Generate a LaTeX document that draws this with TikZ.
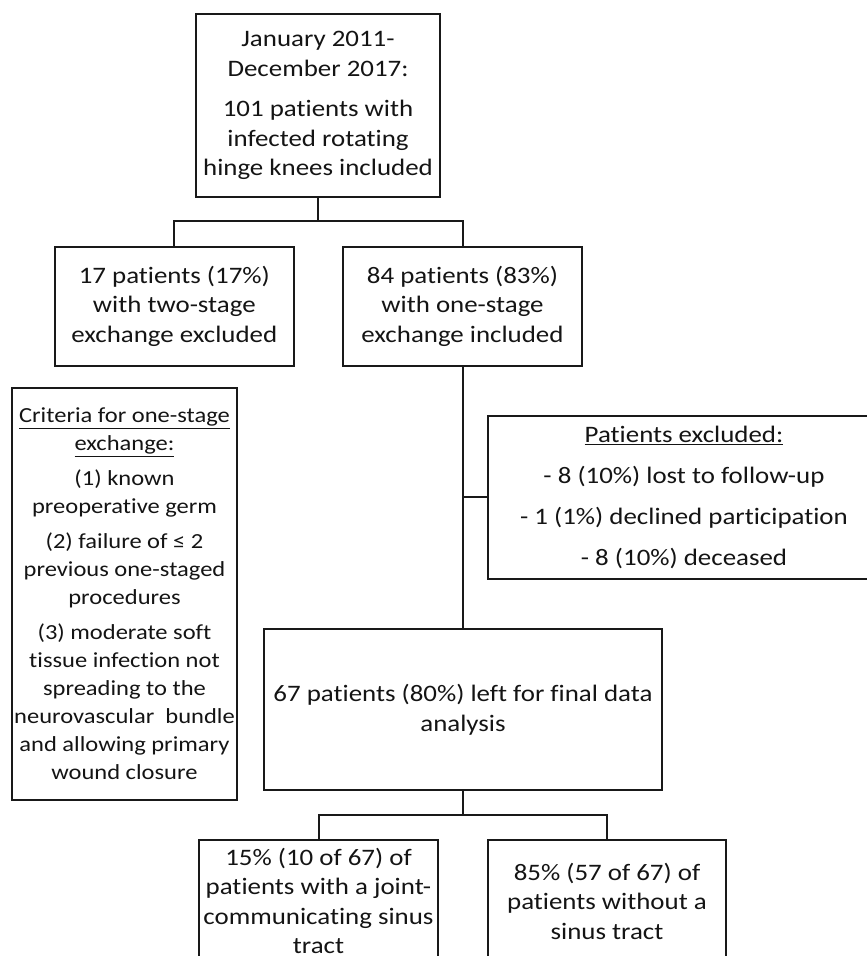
\documentclass[tikz,border=0pt]{standalone}
\usepackage{fontspec}
\setmainfont{Carlito}[FakeStretch=1.14, Ligatures={NoCommon}]
\begin{document}
\begin{tikzpicture}[x=1pt,y=-1pt,
  box/.style={draw=black!90, line width=2pt, inner sep=0pt, align=center, text=black!92,
    font=\fontsize{23.6}{29.5}\selectfont},
  smallbox/.style={box, font=\fontsize{21.5}{28}\selectfont},
  link/.style={draw=black!90, line width=2pt}]
\useasboundingbox (0,0) rectangle (867,956);
\clip (0,0) rectangle (867,956);
\node[box, minimum width=244pt, minimum height=183pt] (top) at (318,105.5)
  {January 2011-\\December 2017:\\[11pt]101 patients with\\infected rotating\\hinge knees included};
\node[box, minimum width=238.6pt, minimum height=119pt] (left) at (174.3,306.2)
  {17 patients (17\%)\\with two-stage\\exchange excluded};
\node[box, minimum width=238.4pt, minimum height=119pt] (right) at (462.5,306.2)
  {84 patients (83\%)\\with one-stage\\exchange included};
\node[smallbox, minimum width=225pt, minimum height=412pt] (crit) at (124.5,594)
  {\underline{Criteria for one-stage}\\\underline{exchange:}\\[7pt]
   (1) known\\preoperative germ\\[7pt]
   (2) failure of ≤ 2\\previous one-staged\\procedures\\[7pt]
   (3) moderate soft\\tissue infection not\\spreading to the\\neurovascular\ \ bundle\\and allowing primary\\wound closure};
\node[box, minimum width=392pt, minimum height=163.3pt] (excl) at (684,497.4)
  {\underline{Patients excluded:}\\[11.5pt]- 8 (10\%) lost to follow-up\\[11.5pt]- 1 (1\%) declined participation\\[11.5pt]- 8 (10\%) deceased};
\node[box, minimum width=398pt, minimum height=160.7pt] (final) at (463,709.7)
  {67 patients (80\%) left for final data\\analysis};
\node[box, minimum width=239pt, minimum height=122pt] (bl) at (318.5,901)
  {15\% (10 of 67) of\\patients with a joint-\\communicating sinus\\tract};
\node[box, minimum width=238pt, minimum height=122pt] (br) at (607,901)
  {85\% (57 of 67) of\\patients without a\\sinus tract};
\coordinate (j1) at (318,221);
\coordinate (j2) at (463,815);
\draw[link] (top.south) -- (j1);
\draw[link] (left.north) |- (j1) -| (right.north);
\draw[link] (right.south) -- (right.south |- final.north);
\draw[link] (excl.west) -- (excl.west -| right.south);
\draw[link] (final.south) -- (j2);
\draw[link] (bl.north) |- (j2) -| (br.north);
\end{tikzpicture}
\end{document}
